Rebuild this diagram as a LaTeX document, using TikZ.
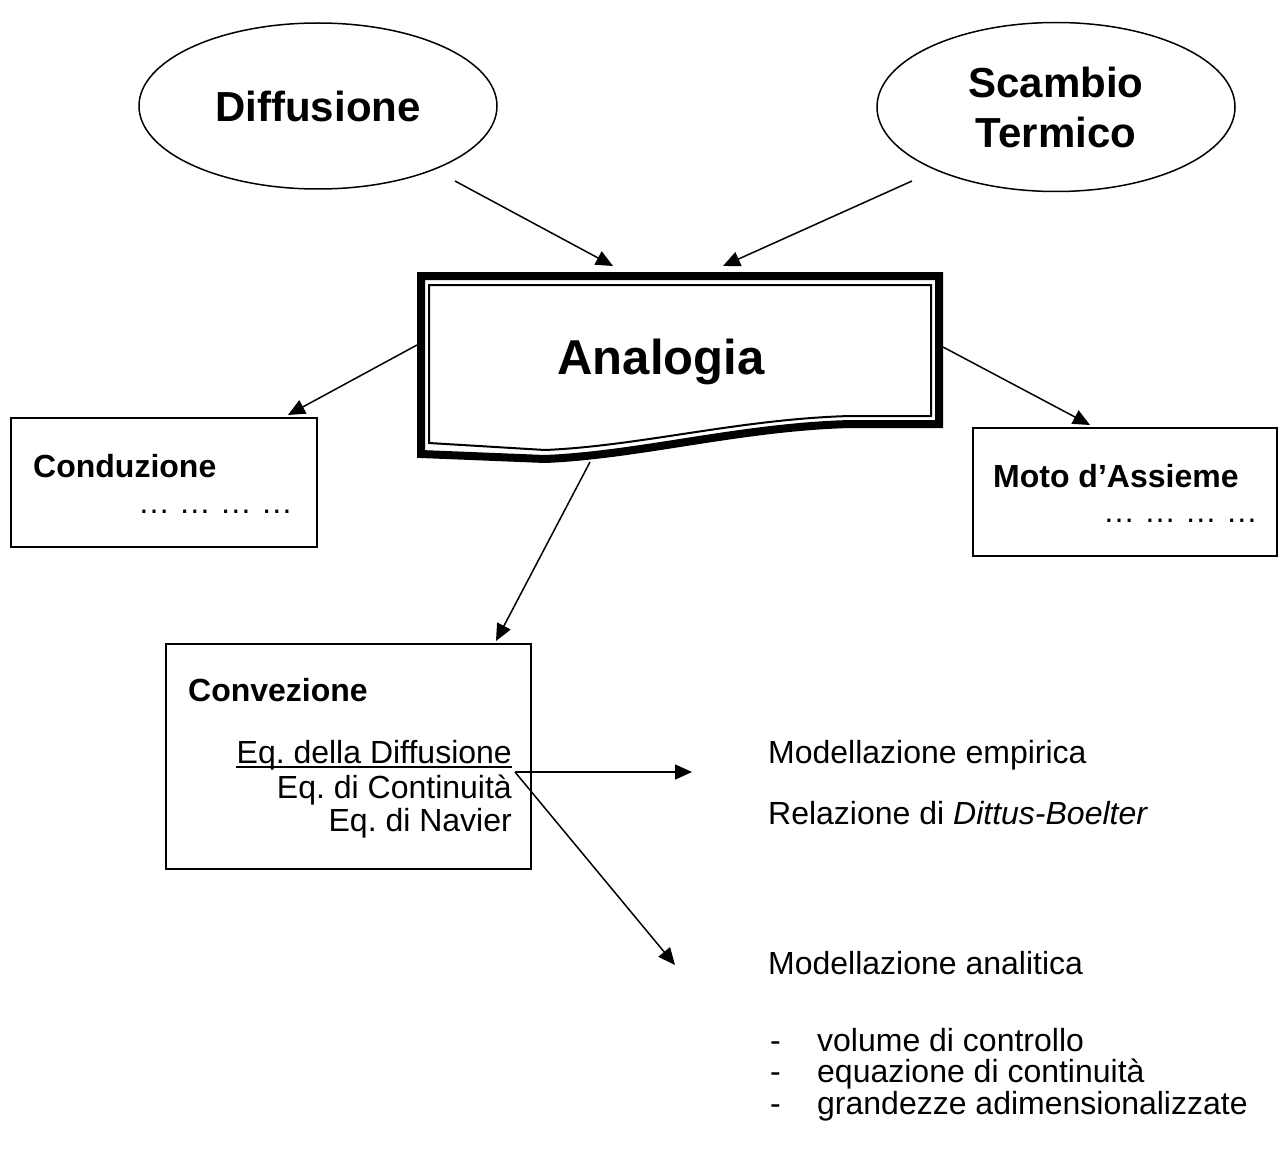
\documentclass[tikz,border=0pt]{standalone}
\usepackage{fontspec}
\setmainfont{Liberation Sans}
\usetikzlibrary{arrows.meta,shapes.geometric}
\frenchspacing
\begin{document}
\begin{tikzpicture}[x=1pt,y=-1pt,
  conn/.style={line width=1.5pt,-{Triangle[length=17pt,width=15pt]}},
  oval/.style={ellipse,draw,line width=1.5pt,inner sep=0pt,font=\fontsize{42}{50}\selectfont\bfseries,align=center},
  boxnode/.style={draw,line width=2pt,inner sep=0pt},
  txt/.style={inner sep=0pt,anchor=base west,font=\fontsize{32}{38}\selectfont},
  txtr/.style={inner sep=0pt,anchor=base east,font=\fontsize{32}{38}\selectfont},
  btxt/.style={inner sep=0pt,anchor=base west,font=\fontsize{32}{38}\selectfont\bfseries}]
\useasboundingbox (0,0) rectangle (1283,1153);

% ellipses
\node[oval,minimum width=358,minimum height=166] (diff) at (318,106) {Diffusione};
\node[oval,minimum width=358,minimum height=169] (scam) at (1056,107) {Scambio\\Termico};

% Analogia document shape
\draw[line width=8pt,line join=miter]
  (421,276) -- (939,276) -- (939,424) -- (850,424)
  .. controls (740,427) and (640,455) .. (545,459) -- (421,454) -- cycle;
\draw[line width=2pt,line join=miter]
  (429,285) -- (931,285) -- (931,416) -- (850,416)
  .. controls (740,419) and (640,446) .. (545,450) -- (429,443) -- cycle;
\node[inner sep=0pt,anchor=base,font=\fontsize{49}{58}\selectfont\bfseries] (ana) at (661,374) {Analogia};

% boxes
\node[boxnode,minimum width=306,minimum height=129] (cond) at (164,482.5) {};
\node[boxnode,minimum width=304,minimum height=128] (moto) at (1125,492) {};
\node[boxnode,minimum width=365,minimum height=225] (conv) at (348.5,756.5) {};

% box texts
\node[btxt] (condt) at (33,477) {Conduzione};
\node[txtr] (condd) at (293,513) {… … … …};
\node[btxt] (motot) at (993,487) {Moto d’Assieme};
\node[txtr] (motod) at (1258,522) {… … … …};
\node[btxt] (convt) at (188,701) {Convezione};
\node[txtr] (eq1) at (512,763) {Eq. della Diffusione};
\draw[line width=2pt] ([yshift=-4pt]eq1.base west) -- ([yshift=-4pt]eq1.base east);
\node[txtr] (eq2) at (512,798) {Eq. di Continuità};
\node[txtr] (eq3) at (512,831) {Eq. di Navier};

% right texts
\node[txt] (emp) at (768,763) {Modellazione empirica};
\node[txt] (rel) at (768,824) {Relazione di \textit{Dittus-Boelter}};
\node[txt] (anl) at (768,974) {Modellazione analitica};
\node[txt] (b1) at (770,1051) {-};
\node[txt] (l1) at (817,1051) {volume di controllo};
\node[txt] (b2) at (770,1082) {-};
\node[txt] (l2) at (817,1082) {equazione di continuità};
\node[txt] (b3) at (770,1114) {-};
\node[txt] (l3) at (817,1114) {grandezze adimensionalizzate};

% connector end points
\coordinate (dS) at (455,181);
\coordinate (dE) at (613,266);
\coordinate (sS) at (912,181);
\coordinate (sE) at (723,266);
\coordinate (aL) at (417,345);
\coordinate (cT) at (288,415);
\coordinate (aR) at (943,347);
\coordinate (mT) at (1090,425);
\coordinate (aB) at (590,462);
\coordinate (vT) at (496,641);
\coordinate (eS) at (515,772);
\coordinate (eE) at (692,772);
\coordinate (eD) at (675,965);

\draw[conn] (dS) -- (dE);
\draw[conn] (sS) -- (sE);
\draw[conn] (aL) -- (cT);
\draw[conn] (aR) -- (mT);
\draw[conn] (aB) -- (vT);
\draw[conn] (eS) -- (eE);
\draw[conn] (eS) -- (eD);
\end{tikzpicture}
\end{document}
